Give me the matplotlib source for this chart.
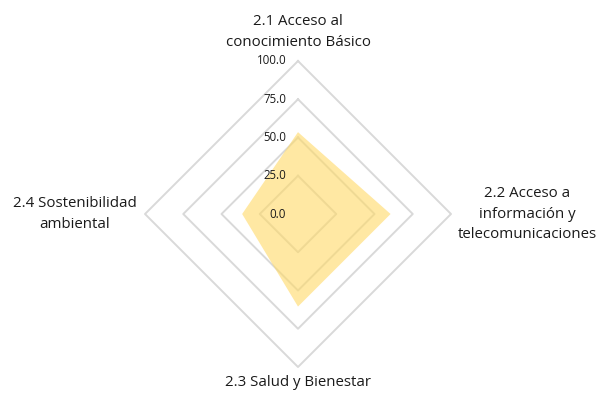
import numpy as np
import matplotlib
matplotlib.use("Agg")
import matplotlib.pyplot as plt

categories = ["2.1 Acceso al\nconocimiento Básico",
              "2.2 Acceso a\ninformación y\ntelecomunicaciones",
              "2.3 Salud y Bienestar",
              "2.4 Sostenibilidad\nambiental"]
values = [53.5, 60.5, 60.5, 36.5]
ring_values = [25, 50, 75, 100]
tick_values = [0, 25, 50, 75, 100]
tick_labels = ["0.0", "25.0", "50.0", "75.0", "100.0"]
label_radius = [119, 150, 110, 146]

plt.rcParams['font.family'] = ['Open Sans', 'DejaVu Sans']

W, H = 604, 398
fig = plt.figure(figsize=(W / 100, H / 100), dpi=100)
cx, cy, R = 298, 214, 153
ax = fig.add_axes([(cx - R) / W, (H - cy - R) / H, 2 * R / W, 2 * R / H], projection='polar')
ax.set_theta_offset(np.pi / 2)
ax.set_theta_direction(-1)
ax.set_ylim(0, 100)
ax.grid(False)
ax.spines['polar'].set_visible(False)
ax.set_xticks([])
ax.set_yticks([])
ax.patch.set_alpha(0)

n = len(categories)
theta = np.arange(n) * 2 * np.pi / n
theta_c = np.append(theta, theta[0])

for rv in ring_values:
    ax.plot(theta_c, [rv] * (n + 1), color='#D9D9D9', lw=1.4, zorder=1, clip_on=False)

vals_c = values + values[:1]
ax.fill(theta_c, vals_c, color='#FFD966', alpha=0.6, lw=0, zorder=2)

for tv, tl in zip(tick_values, tick_labels):
    ax.annotate(tl, xy=(0, tv), xytext=(-8.5, 0), textcoords='offset points',
                ha='right', va='center', fontsize=8.3, color='#1a1a1a', zorder=3,
                annotation_clip=False)

for t, lab, lr in zip(theta, categories, label_radius):
    ax.text(t, lr, lab, ha='center', va='center', fontsize=10.8, color='#1a1a1a',
            linespacing=1.5, clip_on=False)

fig.savefig("out.png", dpi=100)
